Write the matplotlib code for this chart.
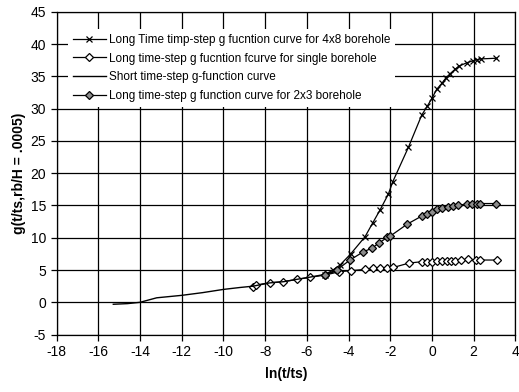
import matplotlib
matplotlib.use("Agg")
import matplotlib.pyplot as plt

# Short time-step g-function curve
short_x = [-15.28, -14.6, -14.0, -13.2, -12.0, -11.0, -10.0, -9.2, -8.58, -7.8, -7.1, -6.5, -5.9, -5.1, -4.6]
short_y = [-0.3, -0.2, 0.0, 0.7, 1.08, 1.5, 2.0, 2.3, 2.5, 3.0, 3.2, 3.55, 3.87, 4.35, 4.8]

# Long time-step g function curve for single borehole
single_x = [-8.57, -8.44, -7.76, -7.13, -6.46, -5.85, -5.13, -4.44, -3.9, -3.21, -2.84, -2.49, -2.14,
            -1.85, -1.1, -0.49, -0.25, 0.0, 0.23, 0.47, 0.71, 0.9, 1.11, 1.4, 1.75, 2.11, 2.31, 3.1]
single_y = [2.42, 2.68, 3.04, 3.2, 3.56, 3.87, 4.22, 4.74, 4.9, 5.1, 5.26, 5.26, 5.36,
            5.4, 6.08, 6.29, 6.29, 6.3, 6.33, 6.33, 6.33, 6.33, 6.33, 6.55, 6.65, 6.55, 6.55, 6.55]

# Long time-step g function curve for 2x3 borehole
b23_x = [-5.13, -4.57, -3.93, -3.29, -2.89, -2.52, -2.14, -2.0, -1.18, -0.49, -0.25, 0.0, 0.23,
         0.47, 0.79, 1.03, 1.27, 1.67, 1.91, 2.15, 2.31, 3.08]
b23_y = [4.3, 5.0, 6.55, 7.83, 8.36, 9.23, 10.06, 10.26, 12.12, 13.36, 13.67, 14.0, 14.4,
         14.55, 14.8, 14.9, 15.06, 15.2, 15.3, 15.3, 15.3, 15.3]

# Long Time timp-step g fucntion curve for 4x8 borehole
b48_x = [-5.13, -4.75, -4.41, -3.9, -3.21, -2.84, -2.49, -2.09, -1.88, -1.13, -0.49, -0.22, 0.0,
         0.23, 0.47, 0.68, 0.87, 1.11, 1.31, 1.67, 1.96, 2.18, 2.34, 3.08]
b48_y = [4.3, 5.0, 5.77, 7.48, 10.15, 12.3, 14.3, 16.76, 18.67, 24.0, 29.0, 30.4, 31.6,
         33.0, 33.9, 34.8, 35.4, 36.1, 36.6, 37.1, 37.4, 37.6, 37.7, 37.8]

labels = ["Long Time timp-step g fucntion curve for 4x8 borehole",
          "Long time-step g fucntion fcurve for single borehole",
          "Short time-step g-function curve",
          "Long time-step g function curve for 2x3 borehole"]

xticks = list(range(-18, 5, 2))
yticks = list(range(-5, 46, 5))

plt.rcParams['font.family'] = ['Liberation Sans', 'DejaVu Sans']

fig = plt.figure(figsize=(5.19, 3.92), dpi=100)
ax = fig.add_axes([0.109, 0.1464, 0.884, 0.8236])

ax.set_xlim(-18, 4)
ax.set_ylim(-5, 45)
ax.set_xticks(xticks)
ax.set_yticks(yticks)
ax.set_xticklabels([str(t) for t in xticks], fontsize=10)
ax.set_yticklabels([str(t) for t in yticks], fontsize=10)
ax.grid(True, color='black', linewidth=0.9)
ax.set_axisbelow(True)
ax.tick_params(direction='out', length=4, width=0.9, color='black')
for s in ax.spines.values():
    s.set_linewidth(0.9)

l1, = ax.plot(b48_x, b48_y, color='black', lw=0.9, marker='x', ms=4, mew=0.9)
l2, = ax.plot(single_x, single_y, color='black', lw=0.9, marker='D', ms=4.5, mfc='white', mew=0.9)
l3, = ax.plot(short_x, short_y, color='black', lw=1.0)
l4, = ax.plot(b23_x, b23_y, color='black', lw=0.9, marker='D', ms=4.5, mfc='0.55', mew=0.9)

leg = ax.legend([l1, l2, l3, l4], labels, loc='upper left', bbox_to_anchor=(0.012, 0.965),
                fontsize=8.5, frameon=True, fancybox=False, framealpha=1.0,
                handlelength=2.8, labelspacing=0.58, borderpad=0.4, handletextpad=0.25)
leg.get_frame().set_edgecolor('none')
leg.get_frame().set_facecolor('white')

ax.set_xlabel("ln(t/ts)", fontsize=10, fontweight='bold', labelpad=6)
ax.set_ylabel("g(t/ts,rb/H = .0005)", fontsize=10, fontweight='bold', labelpad=3)

fig.savefig("out.png", dpi=100)
